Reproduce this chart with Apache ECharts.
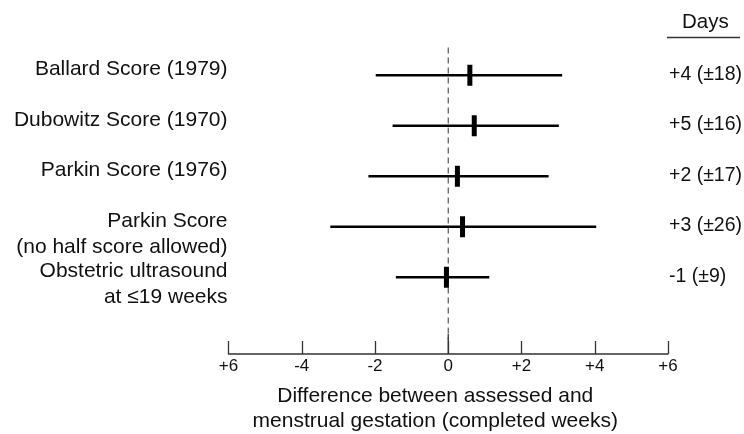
<!DOCTYPE html>
<html>
<head>
<meta charset="utf-8">
<script src="https://cdn.jsdelivr.net/npm/echarts@6/dist/echarts.min.js"></script>
<style>html,body{margin:0;padding:0;background:#fff;}#c{width:744px;height:434px;}</style>
</head>
<body>
<div id="c"></div>
<script>
// ---- data (weeks) ----
const categories = ['Ballard Score (1979)', 'Dubowitz Score (1970)', 'Parkin Score (1976)', 'Parkin Score\n(no half score allowed)', 'Obstetric ultrasound\nat \u226419 weeks'];
const means = [0.59, 0.71, 0.25, 0.39, -0.05];
const lows = [-1.98, -1.52, -2.18, -3.22, -1.43];
const highs = [3.11, 3.02, 2.74, 4.04, 1.12];
const dayLabels = ['+4 (\u00b118)', '+5 (\u00b116)', '+2 (\u00b117)', '+3 (\u00b126)', '-1 (\u00b19)'];
const tickLabels = ['+6', '-4', '-2', '0', '+2', '+4', '+6'];
const xMin = -6, xMax = 6, xStep = 2;

const FONT = '"Liberation Sans", Arial, Helvetica, sans-serif';
const chart = echarts.init(document.getElementById('c'), null, {renderer: 'canvas'});
const Y_MIN = -0.55, Y_MAX = 5.52;

const barData = categories.map((c, i) => [means[i], i, lows[i], highs[i]]);
const leftData = categories.map((c, i) => [xMin, i]);
const rightData = categories.map((c, i) => [xMax, i]);

const option = {
  animation: false,
  backgroundColor: '#fff',
  grid: {left: 228.5, right: 76, top: 47.5, bottom: 80, containLabel: false, outerBoundsMode: 'none'},
  xAxis: {
    type: 'value', min: xMin, max: xMax, interval: xStep, position: 'bottom',
    splitLine: {show: false},
    axisLine: {show: true, onZero: false, lineStyle: {color: '#333', width: 1.5}},
    axisTick: {show: true, inside: true, length: 13, lineStyle: {color: '#333', width: 1.3}},
    axisLabel: {
      margin: 4, fontSize: 17, color: '#111', fontFamily: FONT,
      formatter: v => tickLabels[Math.round((v - xMin) / xStep)]
    },
    name: 'Difference between assessed and\nmenstrual gestation (completed weeks)',
    nameLocation: 'middle', nameGap: 30,
    nameTextStyle: {fontSize: 21, lineHeight: 25, color: '#111', fontFamily: FONT, padding: [0, 26, 0, 0]}
  },
  yAxis: {type: 'value', inverse: true, min: Y_MIN, max: Y_MAX, show: false},
  graphic: [
    {type: 'text', left: 682, top: 12, style: {text: 'Days', font: '20.5px ' + FONT, fill: '#111'}},
    {type: 'line', shape: {x1: 667, y1: 37.5, x2: 740, y2: 37.5}, style: {stroke: '#333', lineWidth: 1.3}}
  ],
  series: [
    {
      type: 'custom', silent: true, clip: false, data: [[0, 0]],
      renderItem: (params, api) => {
        const top = api.coord([0, Y_MIN]);
        const bot = api.coord([0, Y_MAX]);
        return {type: 'group', children: [
          {type: 'line', shape: {x1: top[0], y1: top[1], x2: top[0], y2: bot[1] - 14},
           style: {stroke: '#555', lineWidth: 1.2, lineDash: [6, 4]}},
          {type: 'line', shape: {x1: top[0], y1: bot[1] - 20, x2: top[0], y2: bot[1]},
           style: {stroke: '#333', lineWidth: 1.3}}
        ]};
      }
    },
    {
      type: 'custom', silent: true, clip: false, data: barData,
      encode: {x: [0, 2, 3], y: 1},
      renderItem: (params, api) => {
        const i = api.value(1);
        const p0 = api.coord([api.value(2), i]);
        const p1 = api.coord([api.value(3), i]);
        const pm = api.coord([api.value(0), i]);
        return {type: 'group', children: [
          {type: 'line', shape: {x1: p0[0], y1: p0[1], x2: p1[0], y2: p1[1]}, style: {stroke: '#000', lineWidth: 2.3}},
          {type: 'rect', shape: {x: pm[0] - 2.5, y: pm[1] - 10.5, width: 5, height: 21}, style: {fill: '#000'}}
        ]};
      }
    },
    {
      type: 'custom', silent: true, clip: false, data: leftData,
      renderItem: (params, api) => {
        const p = api.coord([api.value(0), api.value(1)]);
        return {type: 'text', x: p[0] - 1, y: p[1] - 19,
          style: {text: categories[params.dataIndex], align: 'right', verticalAlign: 'top',
                  font: '21px ' + FONT, lineHeight: 26, fill: '#111'}};
      }
    },
    {
      type: 'custom', silent: true, clip: false, data: rightData,
      renderItem: (params, api) => {
        const p = api.coord([api.value(0), api.value(1)]);
        return {type: 'text', x: p[0] + 1, y: p[1] - 1,
          style: {text: dayLabels[params.dataIndex], align: 'left', verticalAlign: 'middle',
                  font: '19.5px ' + FONT, fill: '#111'}};
      }
    }
  ]
};
chart.setOption(option);
</script>
</body>
</html>
